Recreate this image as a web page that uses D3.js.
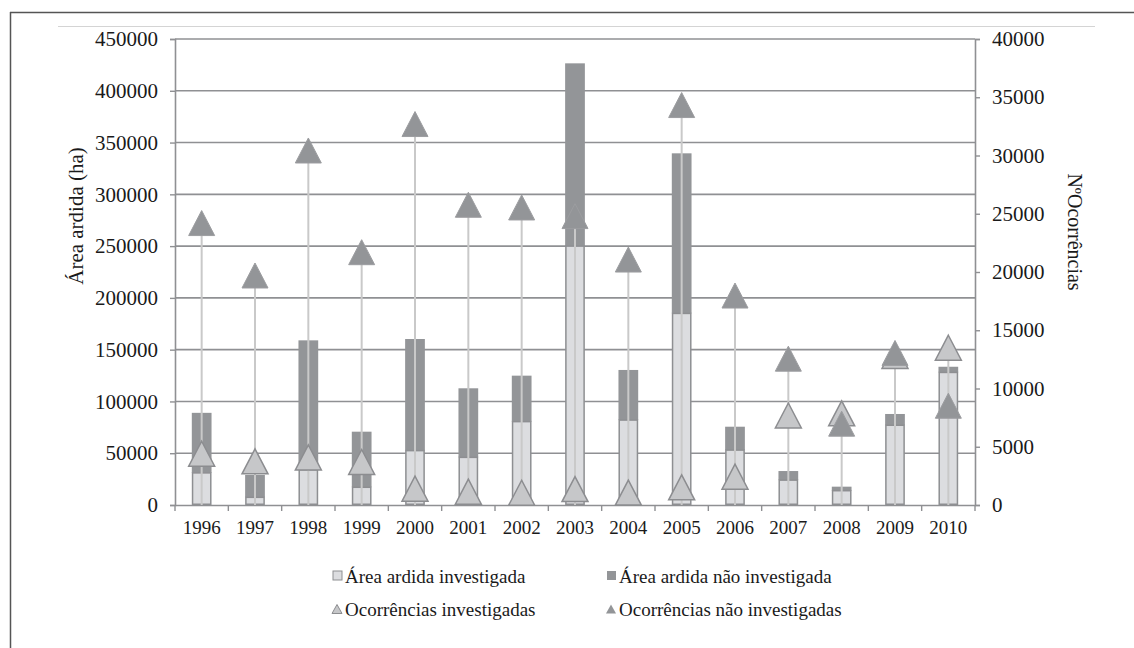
<!DOCTYPE html>
<html>
<head>
<meta charset="utf-8">
<script src="https://cdn.jsdelivr.net/npm/d3@7"></script>
<style>
  html, body { margin: 0; padding: 0; background: #fff; }
  svg { display: block; }
</style>
</head>
<body>
<svg id="chart" width="1134" height="648"></svg>
<script>
const years = ["1996","1997","1998","1999","2000","2001","2002","2003","2004","2005","2006","2007","2008","2009","2010"];
const areaInvestigada = [31000, 7400, 34000, 17100, 52500, 46000, 80500, 250000, 82000, 185000, 53000, 24000, 13800, 77000, 128000];
const areaNaoInvestigada = [58000, 21600, 125000, 53700, 107800, 66700, 44400, 176500, 48400, 154600, 22600, 8800, 3900, 10900, 5500];
const ocorrInvestigadas = [4400, 3750, 4080, 3690, 1400, 1140, 1050, 1370, 1070, 1520, 2430, 7680, 7870, 12800, 13500];
const ocorrNaoInvestigadas = [24200, 19700, 30430, 21700, 32700, 25770, 25540, 24800, 21070, 34330, 17980, 12560, 6980, 13050, 8520];
const leftTicks = [0, 50000, 100000, 150000, 200000, 250000, 300000, 350000, 400000, 450000];
const rightTicks = [0, 5000, 10000, 15000, 20000, 25000, 30000, 35000, 40000];
const leftTitle = "Área ardida (ha)";
const rightTitle = "NºOcorrências";
const legendLabels = ["Área ardida investigada", "Área ardida não investigada", "Ocorrências investigadas", "Ocorrências não investigadas"];

const FONT = "'Liberation Serif', 'Times New Roman', serif";
const C = {
  grid: "#8f9093",
  lightFill: "#dcdde0",
  lightStroke: "#8e8f92",
  dark: "#939598",
  triLight: "#c6c7c9",
  triLightStroke: "#8c8d90",
  drop: "#c9c9c9",
  text: "#1a1a1a"
};

const svg = d3.select("#chart");
const L = 175, R = 975, T = 39, B = 505;

const x = d3.scaleBand().domain(years).range([L, R]).padding(0);
const y = d3.scaleLinear().domain([0, 450000]).range([B, T]);
const y2 = d3.scaleLinear().domain([0, 40000]).range([B, T]);

// frame
svg.append("line").attr("x1", 10).attr("x2", 1134).attr("y1", 12.5).attr("y2", 12.5).attr("stroke", "#555").attr("stroke-width", 1.5);
svg.append("line").attr("x1", 10.5).attr("x2", 10.5).attr("y1", 12).attr("y2", 648).attr("stroke", "#555").attr("stroke-width", 1.5);
svg.append("line").attr("x1", 58).attr("x2", 1095).attr("y1", 26.5).attr("y2", 26.5).attr("stroke", "#d4d4d4").attr("stroke-width", 1);

// gridlines
svg.append("g").selectAll("line").data(leftTicks.filter(d => d > 0)).join("line")
  .attr("x1", L).attr("x2", R)
  .attr("y1", d => y(d)).attr("y2", d => y(d))
  .attr("stroke", C.grid).attr("stroke-width", 1.6);

function styleText(sel, size) {
  sel.attr("font-family", FONT).style("font-family", FONT).style("font-size", size + "px").attr("fill", C.text);
  return sel;
}

// left axis
const gl = svg.append("g").attr("transform", `translate(${L},0)`)
  .call(d3.axisLeft(y).tickValues(leftTicks).tickFormat(d3.format("d")).tickSize(5).tickPadding(12));
gl.attr("font-family", FONT);
gl.select(".domain").attr("stroke", C.grid).attr("stroke-width", 1.6);
gl.selectAll(".tick line").attr("stroke", C.grid).attr("stroke-width", 1.4);
styleText(gl.selectAll(".tick text"), 21);

// right axis
const gr = svg.append("g").attr("transform", `translate(${R},0)`)
  .call(d3.axisRight(y2).tickValues(rightTicks).tickFormat(d3.format("d")).tickSize(5).tickPadding(12));
gr.attr("font-family", FONT);
gr.select(".domain").attr("stroke", C.grid).attr("stroke-width", 1.6);
gr.selectAll(".tick line").attr("stroke", C.grid).attr("stroke-width", 1.4);
styleText(gr.selectAll(".tick text"), 21);

// bars
const bw = x.bandwidth() * 0.37;
const gb = svg.append("g");
years.forEach((yr, i) => {
  const cx = x(yr) + x.bandwidth() / 2;
  const inv = areaInvestigada[i], nao = areaNaoInvestigada[i];
  gb.append("rect").attr("x", cx - bw / 2).attr("width", bw)
    .attr("y", y(inv + nao)).attr("height", y(inv) - y(inv + nao))
    .attr("fill", C.dark);
  gb.append("rect").attr("x", cx - bw / 2 + 0.75).attr("width", bw - 1.5)
    .attr("y", y(inv)).attr("height", y(0) - y(inv) - 0.75)
    .attr("fill", C.lightFill).attr("stroke", C.lightStroke).attr("stroke-width", 1.5);
});

// bottom axis
const gx = svg.append("g").attr("transform", `translate(0,${B})`)
  .call(d3.axisBottom(x).tickSize(0).tickPadding(16));
gx.attr("font-family", FONT);
gx.select(".domain").attr("stroke", C.grid).attr("stroke-width", 1.6);
styleText(gx.selectAll(".tick text"), 19);
svg.append("g").selectAll("line").data(years.concat(["end"])).join("line")
  .attr("x1", (d, i) => L + i * x.step()).attr("x2", (d, i) => L + i * x.step())
  .attr("y1", B).attr("y2", B + 6).attr("stroke", C.grid).attr("stroke-width", 1.4);

// drop lines
const gd = svg.append("g");
years.forEach((yr, i) => {
  const cx = x(yr) + x.bandwidth() / 2;
  const top = Math.max(ocorrInvestigadas[i], ocorrNaoInvestigadas[i]);
  gd.append("line").attr("x1", cx).attr("x2", cx).attr("y1", y2(top)).attr("y2", B)
    .attr("stroke", C.drop).attr("stroke-width", 2);
});

// triangles
function tri(cx, cy, w, h) {
  return `M${cx},${cy - h / 2}L${cx + w / 2},${cy + h / 2}L${cx - w / 2},${cy + h / 2}Z`;
}
const gt = svg.append("g");
years.forEach((yr, i) => {
  const cx = x(yr) + x.bandwidth() / 2;
  gt.append("path").attr("d", tri(cx, y2(ocorrInvestigadas[i]), 26, 25))
    .attr("fill", C.triLight).attr("stroke", C.triLightStroke).attr("stroke-width", 1.5);
});
years.forEach((yr, i) => {
  const cx = x(yr) + x.bandwidth() / 2;
  gt.append("path").attr("d", tri(cx, y2(ocorrNaoInvestigadas[i]), 26, 25))
    .attr("fill", C.dark).attr("stroke", "#9c9da0").attr("stroke-width", 1);
});

// axis titles
styleText(svg.append("text").attr("transform", "translate(83,216) rotate(-90)")
  .attr("text-anchor", "middle").text(leftTitle), 21);
styleText(svg.append("text").attr("transform", "translate(1068,232) rotate(90)")
  .attr("text-anchor", "middle").text(rightTitle), 20);

// legend
const legPos = [[337, 576], [611, 576], [337, 609], [611, 609]];
const lg = svg.append("g");
legendLabels.forEach((lab, i) => {
  const [lx, ly] = legPos[i];
  if (i === 0) lg.append("rect").attr("x", lx - 4).attr("y", ly - 5).attr("width", 9).attr("height", 9)
    .attr("fill", C.lightFill).attr("stroke", C.lightStroke).attr("stroke-width", 1);
  if (i === 1) lg.append("rect").attr("x", lx - 4).attr("y", ly - 5).attr("width", 9).attr("height", 9).attr("fill", C.dark);
  if (i === 2) lg.append("path").attr("d", tri(lx, ly, 10, 9)).attr("fill", C.triLight).attr("stroke", C.triLightStroke).attr("stroke-width", 1);
  if (i === 3) lg.append("path").attr("d", tri(lx, ly, 10, 9)).attr("fill", C.dark);
  styleText(lg.append("text").attr("x", lx + 8).attr("y", ly + 6.5).text(lab), 19);
});
</script>
</body>
</html>
